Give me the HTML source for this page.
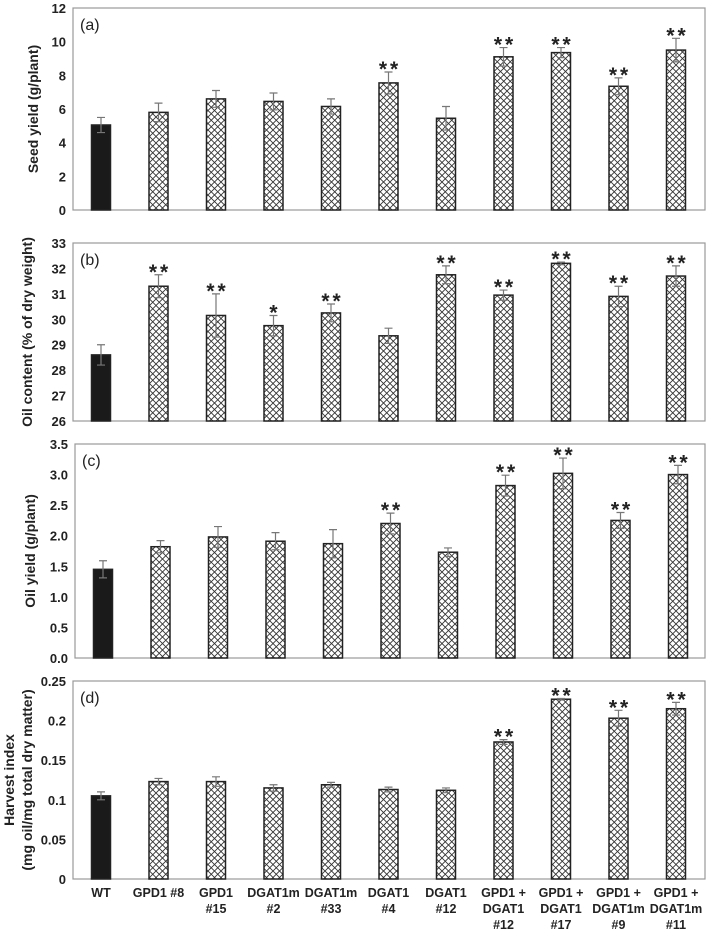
<!DOCTYPE html>
<html><head><meta charset="utf-8"><style>
body{margin:0;background:#fff;}
svg{display:block;font-family:"Liberation Sans",Arial,sans-serif;}
</style></head><body>
<svg id="chart" width="709" height="934" viewBox="0 0 709 934" xmlns="http://www.w3.org/2000/svg">
<defs>
<pattern id="hatch" patternUnits="userSpaceOnUse" width="6.5" height="6.5">
<rect width="6.5" height="6.5" fill="#fff"/>
<path d="M0,0 L6.5,6.5 M6.5,0 L0,6.5" stroke="#333" stroke-width="0.9"/>
</pattern>
</defs>
</svg>
<script>
const categories = [["WT"],["GPD1 #8"],["GPD1","#15"],["DGAT1m","#2"],["DGAT1m","#33"],["DGAT1","#4"],["DGAT1","#12"],["GPD1 +","DGAT1","#12"],["GPD1 +","DGAT1","#17"],["GPD1 +","DGAT1m","#9"],["GPD1 +","DGAT1m","#11"]];
const seedYield = [5.05,5.8,6.6,6.45,6.15,7.55,5.45,9.1,9.35,7.35,9.5];
const seedYieldErr = [0.45,0.55,0.5,0.5,0.45,0.65,0.7,0.55,0.3,0.5,0.7];
const seedYieldSig = ["","","","","","**","","**","**","**","**"];
const oilContent = [28.6,31.3,30.15,29.75,30.25,29.35,31.75,30.95,32.2,30.9,31.7];
const oilContentErr = [0.4,0.45,0.85,0.4,0.35,0.3,0.35,0.2,0.05,0.4,0.4];
const oilContentSig = ["","**","**","*","**","","**","**","**","**","**"];
const oilYield = [1.45,1.82,1.98,1.91,1.87,2.2,1.73,2.82,3.02,2.25,3.0];
const oilYieldErr = [0.14,0.1,0.17,0.14,0.23,0.17,0.07,0.17,0.25,0.13,0.15];
const oilYieldSig = ["","","","","","**","","**","**","**","**"];
const harvestIndex = [0.105,0.123,0.123,0.115,0.119,0.113,0.112,0.173,0.227,0.203,0.215];
const harvestIndexErr = [0.005,0.004,0.006,0.004,0.003,0.003,0.003,0.003,0.001,0.01,0.008];
const harvestIndexSig = ["","","","","","","","**","**","**","**"];
const ticksA = ["0","2","4","6","8","10","12"];
const ticksB = ["26","27","28","29","30","31","32","33"];
const ticksC = ["0.0","0.5","1.0","1.5","2.0","2.5","3.0","3.5"];
const ticksD = ["0","0.05","0.1","0.15","0.2","0.25"];

const NS="http://www.w3.org/2000/svg";
const svg=document.getElementById('chart');
function mk(tag,attrs,parent){const e=document.createElementNS(NS,tag);for(const k in attrs)e.setAttribute(k,attrs[k]);(parent||svg).appendChild(e);return e;}

function panel(cfg){
  const g=mk('g',{});
  
  
  const L=cfg.left,R=705,T=cfg.top,B=cfg.bottom;
  const min=cfg.min,max=cfg.max;
  const y=v=>B-(v-min)/(max-min)*(B-T);
  const x=i=>L+28+i*57.5;
  const frame=mk('rect',{x:L,y:T,width:R-L,height:B-T,fill:'none',stroke:'#999','stroke-width':1.2},g);
  
  
  cfg.ticks.forEach(t=>{
    const tx=mk('text',{x:L-7,y:y(parseFloat(t))+5,'text-anchor':'end','font-size':13,'font-weight':'bold',fill:'#222'},g);
    tx.textContent=t;
    
    
  });
  const pl=mk('text',{x:L+7,y:T+22,'font-size':16,fill:'#222'},g);
  pl.textContent=cfg.label;
  
  
  cfg.title.forEach((line,k)=>{
    const cx=cfg.titleX[k],cy=(T+B)/2;
    const tt=mk('text',{x:cx,y:cy,'text-anchor':'middle','font-size':14,'font-weight':'bold',fill:'#222',transform:`rotate(-90 ${cx} ${cy})`},g);
    tt.textContent=line;
    
    
  });
  cfg.vals.forEach((v,i)=>{
    const cx=x(i),w=19,top=y(v);
    const bar=mk('rect',{x:cx-w/2,y:top,width:w,height:B-top,fill:i===0?'#1a1a1a':'url(#hatch)',stroke:'#222','stroke-width':1.5},g);
    
    
    const e=cfg.err[i],y1=y(v+e),y2=y(v-e);
    const eb=mk('path',{d:`M${cx},${y1}V${y2}M${cx-4},${y1}H${cx+4}M${cx-4},${y2}H${cx+4}`,stroke:'#777','stroke-width':1.2,fill:'none'},g);
    
    
    if(cfg.sig[i]){
      const s=mk('text',{x:cx+1.5,y:y1+4,'text-anchor':'middle','font-size':21,'font-weight':'bold',fill:'#222','letter-spacing':'3'},g);
      s.textContent=cfg.sig[i];
      
      
    }
    if(cfg.xlabels){
      categories[i].forEach((ln,k)=>{
        const t=mk('text',{x:cx,y:B+18+k*16,'text-anchor':'middle','font-size':12.5,'font-weight':'bold',fill:'#222'},g);
        t.textContent=ln;
        
        
      });
    }
  });
}
panel({name:'panel-a-seed-yield',left:73,top:8,bottom:210,min:0,max:12,ticks:ticksA,label:'(a)',title:['Seed yield (g/plant)'],titleX:[38],vals:seedYield,err:seedYieldErr,sig:seedYieldSig});
panel({name:'panel-b-oil-content',left:73,top:243,bottom:421,min:26,max:33,ticks:ticksB,label:'(b)',title:['Oil content (% of dry weight)'],titleX:[32],vals:oilContent,err:oilContentErr,sig:oilContentSig});
panel({name:'panel-c-oil-yield',left:75,top:444,bottom:658,min:0,max:3.5,ticks:ticksC,label:'(c)',title:['Oil yield (g/plant)'],titleX:[35],vals:oilYield,err:oilYieldErr,sig:oilYieldSig});
panel({name:'panel-d-harvest-index',left:73,top:681,bottom:879,min:0,max:0.25,ticks:ticksD,label:'(d)',title:['Harvest index','(mg oil/mg total dry matter)'],titleX:[14,32],vals:harvestIndex,err:harvestIndexErr,sig:harvestIndexSig,xlabels:true});
</script>
</body></html>
